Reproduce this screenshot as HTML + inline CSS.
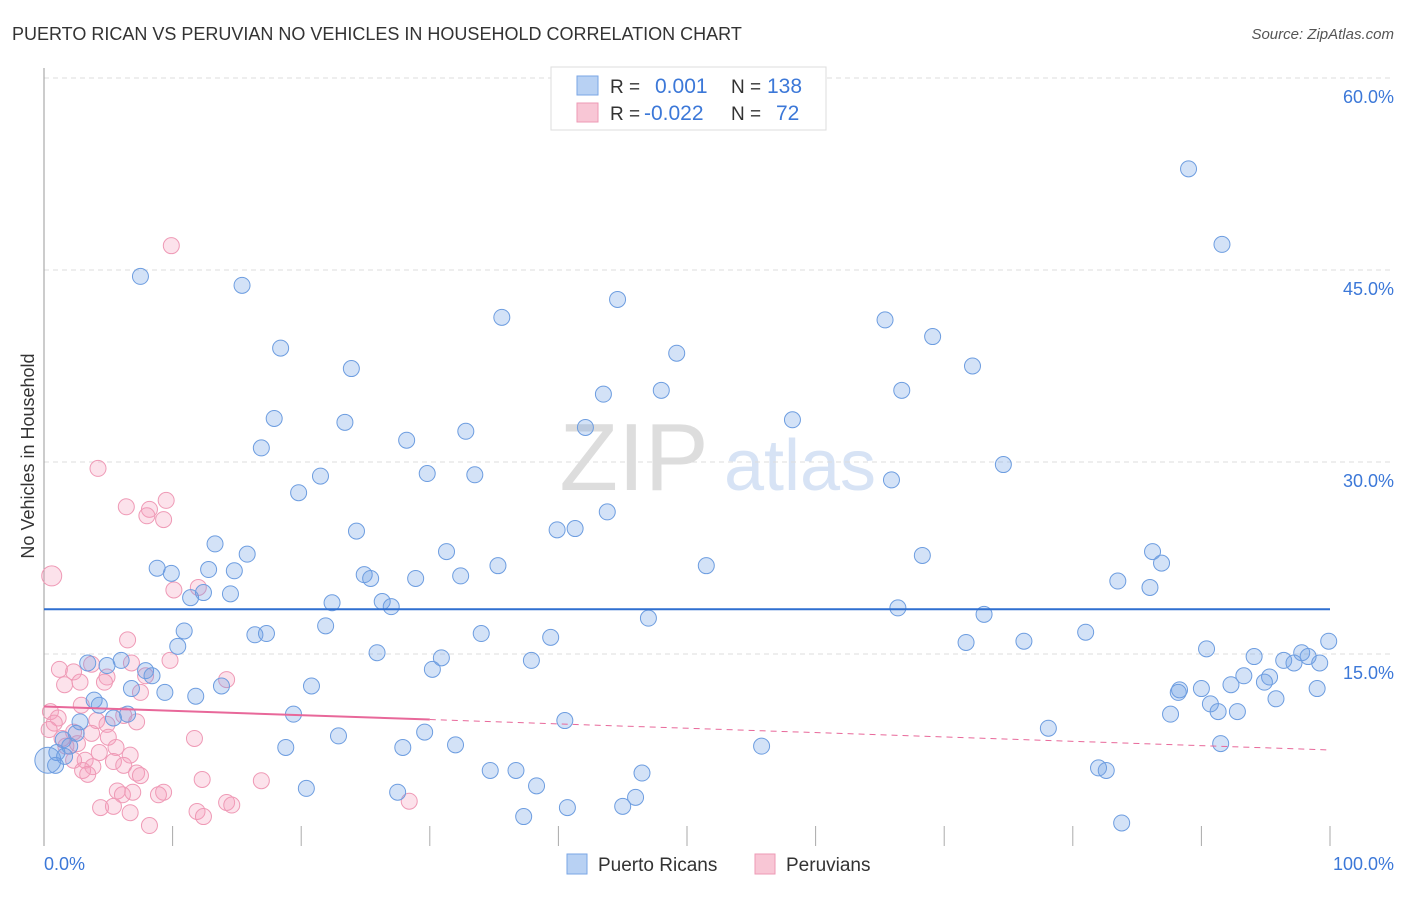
<!DOCTYPE html>
<html><head><meta charset="utf-8"><style>
body{margin:0;background:#fff;font-family:"Liberation Sans",sans-serif;}
svg text{font-family:"Liberation Sans",sans-serif;}
</style></head><body>
<svg id="chart" width="1406" height="892" xmlns="http://www.w3.org/2000/svg">
<text x="12" y="40" font-size="18" fill="#333">PUERTO RICAN VS PERUVIAN NO VEHICLES IN HOUSEHOLD CORRELATION CHART</text>
<text x="1394" y="39" font-size="15" fill="#555" font-style="italic" text-anchor="end">Source: ZipAtlas.com</text>
<text x="634" y="490" font-size="96" fill="#ddd" font-family="Liberation Serif" text-anchor="middle">ZIP</text>
<text x="800" y="490" font-size="72" fill="#d7e3f5" text-anchor="middle">atlas</text>
<g id="grid"></g>
<line x1="44" y1="68" x2="44" y2="846" stroke="#999"/>
<text transform="translate(34,456) rotate(-90)" font-size="18" fill="#333" text-anchor="middle">No Vehicles in Household</text>
<text x="44" y="870" font-size="18" fill="#3c78d8">0.0%</text>
<text x="1394" y="870" font-size="18" fill="#3c78d8" text-anchor="end">100.0%</text>
<g id="pts"></g>
<g id="trend"></g>
<g>
<rect x="551" y="67" width="275" height="63" fill="#fff" stroke="#ddd"/>
<rect x="577" y="76" width="21" height="19" fill="#b8d1f3" stroke="#7aa6e6"/>
<rect x="577" y="103" width="21" height="19" fill="#f8c6d5" stroke="#ee9ab5"/>
<text x="610" y="93" font-size="19" fill="#333">R =</text>
<text x="655" y="93" font-size="21" fill="#3c78d8">0.001</text>
<text x="731" y="93" font-size="19" fill="#333">N =</text>
<text x="767" y="93" font-size="21" fill="#3c78d8">138</text>
<text x="610" y="120" font-size="19" fill="#333">R =</text>
<text x="644" y="120" font-size="21" fill="#3c78d8">-0.022</text>
<text x="731" y="120" font-size="19" fill="#333">N =</text>
<text x="776" y="120" font-size="21" fill="#3c78d8">72</text>
</g>
<g>
<rect x="567" y="854" width="20" height="20" fill="#b8d1f3" stroke="#7aa6e6"/>
<text x="598" y="871" font-size="19" fill="#333">Puerto Ricans</text>
<rect x="755" y="854" width="20" height="20" fill="#f8c6d5" stroke="#ee9ab5"/>
<text x="786" y="871" font-size="19" fill="#333">Peruvians</text>
</g>
</svg>
<script>
const yTicks=[15,30,45,60];
const blueX=[7.5,15.4,44.6,35.6,65.4,18.4,69.1,49.2,23.9,72.2,43.5,48,66.7,17.9,23.4,58.2,42.1,32.8,28.2,16.9,89,91.6,74.6,29.8,33.5,21.5,65.9,19.8,43.8,24.3,39.9,41.3,13.3,15.8,31.3,68.3,86.2,86.9,51.5,35.3,8.8,9.9,12.8,14.8,24.9,25.4,28.9,32.4,83.5,86,12.4,14.5,11.4,22.4,26.3,27,66.4,73.1,47,21.9,10.9,16.4,17.3,34,39.4,81,76.2,71.7,99.9,10.4,90.4,25.9,37.9,30.9,30.2,94.1,97.8,96.4,97.2,98.3,99.2,3.4,4.9,6,7.9,8.4,93.3,95.3,94.9,92.3,90,88.3,88.2,99,6.8,9.4,11.8,13.8,20.8,3.9,4.3,90.7,95.8,91.3,92.8,87.6,6.5,5.4,19.4,2.8,40.5,78.1,2.5,29.6,22.9,1.5,2,32,91.5,18.8,27.9,55.8,1,1.6,0.3,0.9,34.7,36.7,46.5,82,82.6,38.3,20.4,27.5,46,45,40.7,37.3,83.8];
const blueY=[44.5,43.8,42.7,41.3,41.1,38.9,39.8,38.5,37.3,37.5,35.3,35.6,35.6,33.4,33.1,33.3,32.7,32.4,31.7,31.1,52.9,47,29.8,29.1,29,28.9,28.6,27.6,26.1,24.6,24.7,24.8,23.6,22.8,23,22.7,23,22.1,21.9,21.9,21.7,21.3,21.6,21.5,21.2,20.9,20.9,21.1,20.7,20.2,19.8,19.7,19.4,19,19.1,18.7,18.6,18.1,17.8,17.2,16.8,16.5,16.6,16.6,16.3,16.7,16,15.9,16,15.6,15.4,15.1,14.5,14.7,13.8,14.8,15.1,14.5,14.3,14.8,14.3,14.3,14.1,14.5,13.7,13.3,13.3,13.2,12.8,12.6,12.3,12.2,12,12.3,12.3,12,11.7,12.5,12.5,11.4,11,11.1,11.5,10.5,10.5,10.3,10.3,10,10.3,9.7,9.8,9.2,8.8,8.9,8.6,8.3,7.8,7.9,8,7.7,7.7,7.8,7.3,7,6.7,6.3,5.9,5.9,5.7,6.1,5.9,4.7,4.5,4.2,3.8,3.1,3,2.3,1.8];
const pinkX=[9.9,4.2,9.5,6.4,8.2,8,9.3,0.6,10.1,12,6.5,9.8,3.7,1.2,2.3,6.8,4.9,7.9,14.2,2.8,4.7,1.6,7.5,2.9,0.5,1.1,4.1,0.8,6.2,7.2,4.9,2.3,3.7,0.4,1.4,5,11.7,2.6,1.7,5.6,4.3,6.7,3.2,2.3,5.4,6.2,3.8,3,3.4,7.2,7.5,12.3,16.9,5.7,6.1,9.3,6.9,8.9,14.2,14.6,28.4,4.4,5.4,11.9,6.7,12.4,8.2];
const pinkY=[46.9,29.5,27,26.5,26.3,25.8,25.5,21.1,20,20.2,16.1,14.5,14.2,13.8,13.6,14.3,13.2,13.3,13,12.8,12.8,12.6,12,11,10.5,10,9.8,9.6,10.2,9.7,9.5,8.9,8.8,9.1,8.4,8.5,8.4,8,7.8,7.7,7.3,7.1,6.7,6.7,6.6,6.3,6.2,5.9,5.6,5.7,5.5,5.2,5.1,4.3,4,4.2,4.2,4,3.4,3.2,3.5,3,3.1,2.7,2.6,2.3,1.6];
const blueTrend=[18.5,18.5];
const pinkTrend=[10.9,7.5];
const NS='http://www.w3.org/2000/svg';
const sx=v=>44+v*12.86, sy=v=>846-v*12.8;
function mk(t,a,p){const e=document.createElementNS(NS,t);for(const k in a)e.setAttribute(k,a[k]);p.appendChild(e);return e;}
const grid=document.getElementById('grid');
yTicks.forEach(t=>{
 const l=mk('line',{x1:44,x2:1394,y1:sy(t),y2:sy(t),stroke:'#ddd','stroke-dasharray':'5,4'},grid);
 
 
 const tx=mk('text',{x:1394,y:sy(t)+25,'font-size':18,fill:'#3c78d8','text-anchor':'end'},grid);
 tx.textContent=t.toFixed(1)+'%';
 
 
});
for(let i=1;i<=10;i++){
 const l=mk('line',{x1:sx(i*10),x2:sx(i*10),y1:826,y2:846,stroke:'#aaa'},grid);
 
 
}
const pts=document.getElementById('pts');
pinkX.forEach((x,i)=>{
 const c=mk('circle',{cx:sx(x),cy:sy(pinkY[i]),r:(i==7?10:8),fill:'rgba(244,160,188,0.3)',stroke:'#ef9ab6','stroke-width':1},pts);
 
 
});
blueX.forEach((x,i)=>{
 const c=mk('circle',{cx:sx(x),cy:sy(blueY[i]),r:(i==124?13:8),fill:'rgba(110,160,230,0.3)',stroke:'#6d9de0','stroke-width':1},pts);
 
 
});
const tr=document.getElementById('trend');
const b=mk('line',{x1:sx(0),x2:sx(100),y1:sy(blueTrend[0]),y2:sy(blueTrend[1]),stroke:'#2f6fd0','stroke-width':2},tr);


const pAt=x=>pinkTrend[0]+(pinkTrend[1]-pinkTrend[0])*x/100;
const p1=mk('line',{x1:sx(0),x2:sx(30),y1:sy(pAt(0)),y2:sy(pAt(30)),stroke:'#e8689a','stroke-width':2},tr);


const p2=mk('line',{x1:sx(30),x2:sx(100),y1:sy(pAt(30)),y2:sy(pAt(100)),stroke:'#e8689a','stroke-width':1,'stroke-dasharray':'6,5'},tr);


</script>
</body></html>
